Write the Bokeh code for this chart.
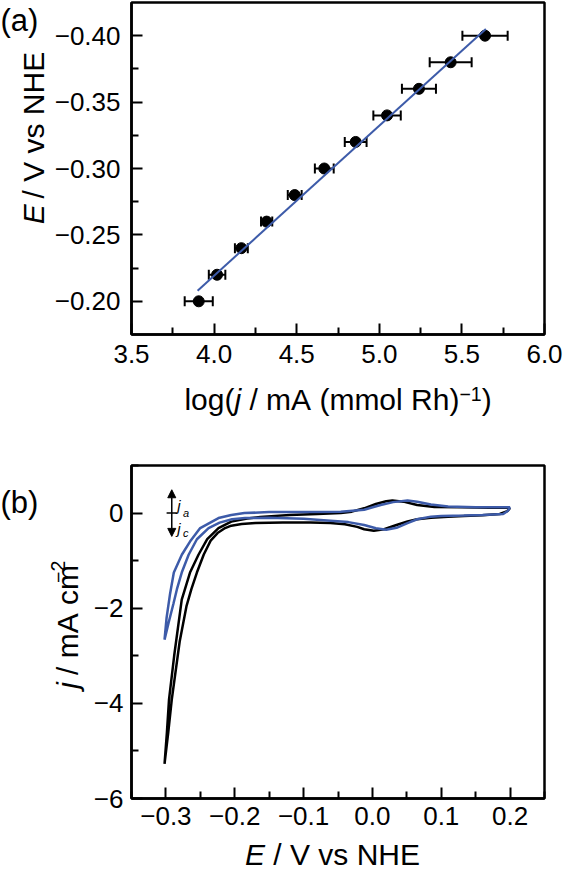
import math
from bokeh.plotting import figure
from bokeh.models import (Range1d, FixedTicker, CustomJSTickFormatter, Label, Whisker,
                          ColumnDataSource, Arrow, NormalHead, TeeHead)
from bokeh.layouts import column, row
from bokeh.core.properties import value
from bokeh.embed import file_html
from bokeh.resources import INLINE

# ---------------- data: panel (a) ----------------
log_j = [3.907, 4.018, 4.165, 4.318, 4.488, 4.667, 4.857, 5.047, 5.240, 5.432, 5.640]
potential_a = [-0.20, -0.22, -0.24, -0.26, -0.28, -0.30, -0.32, -0.34, -0.36, -0.38, -0.40]
log_j_err = [0.085, 0.050, 0.039, 0.034, 0.042, 0.057, 0.066, 0.083, 0.103, 0.127, 0.137]
fit_x = [3.90, 5.645]
fit_y = [-0.208, -0.405]
a_xticks = [3.5, 4.0, 4.5, 5.0, 5.5, 6.0]
a_xminor = [3.75, 4.25, 4.75, 5.25, 5.75]
a_yticks = [-0.40, -0.35, -0.30, -0.25, -0.20]
a_yminor = [-0.375, -0.325, -0.275, -0.225]

# ---------------- data: panel (b) ----------------
black_cat_E = [0.200, 0.196, 0.185, 0.160, 0.133, 0.110, 0.085, 0.065, 0.051, 0.035, 0.017, 0.002,
               -0.012, -0.022, -0.040, -0.061, -0.090, -0.130, -0.170, -0.190, -0.205, -0.214,
               -0.225, -0.235, -0.245, -0.255, -0.263, -0.270, -0.280, -0.2915, -0.2965, -0.302]
black_cat_j = [0.110, 0.040, -0.020, -0.045, -0.060, -0.075, -0.100, -0.130, -0.175, -0.250, -0.340, -0.370,
               -0.340, -0.290, -0.235, -0.210, -0.200, -0.200, -0.210, -0.230, -0.265, -0.315,
               -0.420, -0.580, -0.870, -1.250, -1.600, -1.950, -2.700, -3.920, -4.600, -5.270]
black_an_E = [-0.302, -0.2985, -0.2955, -0.2880, -0.2770, -0.2650, -0.2527, -0.2400, -0.2236, -0.2050,
              -0.1820, -0.1630, -0.1200, -0.0800, -0.0460, -0.0300, -0.0120, 0.0050, 0.0200, 0.0290,
              0.0450, 0.0650, 0.0900, 0.1300, 0.1700, 0.2000]
black_an_j = [-5.270, -4.600, -3.920, -3.000, -1.820, -1.250, -0.876, -0.550, -0.315, -0.180,
              -0.115, -0.080, -0.040, -0.020, 0.000, 0.030, 0.100, 0.190, 0.250, 0.265,
              0.240, 0.170, 0.130, 0.120, 0.110, 0.115]
blue_cat_E = [0.200, 0.197, 0.190, 0.160, 0.133, 0.100, 0.085, 0.065, 0.051, 0.035, 0.020, 0.005,
              -0.012, -0.035, -0.061, -0.100, -0.150, -0.185, -0.204, -0.222, -0.238, -0.255,
              -0.267, -0.277, -0.284, -0.289, -0.296, -0.302]
blue_cat_j = [0.125, 0.050, -0.020, -0.040, -0.050, -0.060, -0.075, -0.130, -0.210, -0.310, -0.350, -0.320,
              -0.250, -0.190, -0.160, -0.120, -0.100, -0.105, -0.130, -0.200, -0.315, -0.550,
              -0.876, -1.250, -1.600, -1.900, -2.300, -2.660]
blue_an_E = [-0.302, -0.299, -0.294, -0.2885, -0.2769, -0.2650, -0.2502, -0.2236, -0.2050, -0.1860,
             -0.1500, -0.1000, -0.0460, -0.0120, 0.0120, 0.0300, 0.0510, 0.0650, 0.0850, 0.1100,
             0.1500, 0.2000]
blue_an_j = [-2.660, -2.200, -1.700, -1.250, -0.876, -0.600, -0.315, -0.105, -0.040, 0.000,
             0.020, 0.025, 0.030, 0.070, 0.170, 0.230, 0.265, 0.240, 0.180, 0.140,
             0.120, 0.125]
b_xticks = [-0.3, -0.2, -0.1, 0.0, 0.1, 0.2]
b_xminor = [-0.35, -0.25, -0.15, -0.05, 0.05, 0.15, 0.25]
b_yticks = [-6, -4, -2, 0]
b_yminor = [-5, -3, -1, 1]

# ---------------- styling ----------------
FONT = "Liberation Sans"
BLUE = "#3d5ba9"
TICK_PX = "26px"
LAB_F = 30
PANEL_F = 31
NB = "\u00a0"
BASE_SHIFT = 0.31   # observed offset of the glyph baseline, in em
W = {NB: 278, ' ': 278, '(': 333, ')': 333, '/': 278, '.': 278, '\u2212': 584, 'A': 667, 'E': 667,
     'H': 722, 'N': 722, 'R': 722, 'V': 667, 'a': 556, 'c': 500, 'g': 556, 'h': 556,
     'j': 222, 'l': 222, 'm': 833, 'o': 556, 's': 500, 'v': 500}
for d in "0123456789":
    W[d] = 556


def twidth(s, size):
    return sum(W.get(ch, 556) for ch in s) * size / 1000.0


def put_text(s, x, y, t, size, italic=False, rotated=False):
    t = t.replace(" ", NB)
    if rotated:
        x = x - BASE_SHIFT * size
    else:
        y = y + BASE_SHIFT * size
    s.text(x=[x], y=[y], text=[t], angle=(math.pi / 2 if rotated else 0.0), text_font=value(FONT),
           text_font_size=value("%.1fpx" % size),
           text_font_style="italic" if italic else "normal",
           text_align="left", text_baseline="alphabetic", text_color="black")


def pieces(s, parts, center, base, rotated=False):
    total = sum(twidth(t, LAB_F * sc) for t, it, sc, r in parts)
    pos = center - total / 2.0
    for t, it, sc, r in parts:
        size = LAB_F * sc
        if rotated:
            put_text(s, base - r * LAB_F, pos, t, size, it, True)
        else:
            put_text(s, pos, base + r * LAB_F, t, size, it)
        pos += twidth(t, size)


def strip(w, h):
    s = figure(width=w, height=h, output_backend="svg", toolbar_location=None,
               x_range=Range1d(0, w), y_range=Range1d(0, h),
               x_axis_location=None, y_axis_location=None,
               min_border=0, min_border_left=0, min_border_right=0,
               min_border_top=0, min_border_bottom=0)
    s.outline_line_color = None
    s.grid.visible = False
    s.background_fill_color = "white"
    s.border_fill_color = "white"
    return s


def style_axis(ax, ticks, minor, digits, standoff):
    ax.ticker = FixedTicker(ticks=ticks, minor_ticks=minor)
    ax.formatter = CustomJSTickFormatter(
        code='return (tick < -1e-9 ? "\\u2212" : "") + Math.abs(tick).toFixed(%d);' % digits)
    ax.major_tick_in = 11
    ax.major_tick_out = 0
    ax.minor_tick_in = 7
    ax.minor_tick_out = 0
    ax.major_tick_line_width = 2
    ax.minor_tick_line_width = 2
    ax.major_tick_line_color = "black"
    ax.minor_tick_line_color = "black"
    ax.axis_line_color = "black"
    ax.axis_line_width = 2.5
    ax.major_label_text_font = FONT
    ax.major_label_text_font_size = TICK_PX
    ax.major_label_text_color = "black"
    ax.major_label_standoff = standoff


def main_fig(w, h, xr, yr, left, top, bottom):
    p = figure(width=w, height=h, output_backend="svg", toolbar_location=None,
               x_range=xr, y_range=yr, min_border_left=left, min_border_right=22,
               min_border_top=top, min_border_bottom=bottom)
    p.grid.visible = False
    p.outline_line_color = "black"
    p.outline_line_width = 2.5
    p.outline_line_alpha = 1.0
    p.background_fill_color = "white"
    p.border_fill_color = "white"
    return p


# ---------------- panel (a) ----------------
SA_W, PA_H, XLA_H = 50, 382, 60
pa = main_fig(566 - SA_W, PA_H, Range1d(3.5, 6.0), Range1d(-0.175, -0.425),
              131 - SA_W, 2, 48)
style_axis(pa.xaxis[0], a_xticks, a_xminor, 1, 10)
style_axis(pa.yaxis[0], a_yticks, a_yminor, 2, 11)

src_a = ColumnDataSource(dict(
    x=log_j, y=potential_a,
    lo=[x - e for x, e in zip(log_j, log_j_err)],
    hi=[x + e for x, e in zip(log_j, log_j_err)]))
wh = Whisker(source=src_a, base="y", lower="lo", upper="hi", dimension="width",
             line_color="black", line_width=2,
             upper_head=TeeHead(size=10, line_width=2, line_color="black"),
             lower_head=TeeHead(size=10, line_width=2, line_color="black"))
pa.add_layout(wh)
pa.scatter("x", "y", source=src_a, size=11, color="black")
pa.line(fit_x, fit_y, line_color=BLUE, line_width=2)

sa = strip(SA_W, PA_H)
put_text(sa, 0, PA_H - 30.2, "(a)", PANEL_F)
pieces(sa, [("E", True, 1, 0), (" / V vs NHE", False, 1, 0)], PA_H - 167.6, 42, rotated=True)

xla = strip(566, XLA_H)
pieces(xla, [("log(", False, 1, 0), ("j", True, 1, 0), (" / mA (mmol Rh)", False, 1, 0),
             ("\u22121", False, 0.65, 0.28), (")", False, 1, 0)], 337.5, XLA_H - (408 - 382))

# ---------------- panel (b) ----------------
B0 = PA_H + XLA_H                      # page y where panel (b) starts
SB_W, PB_H = 86, 23 + 333 + 37
XLB_H = 870 - B0 - PB_H
pb = main_fig(566 - SB_W, PB_H, Range1d(-0.35, 0.25), Range1d(-6, 1), 131 - SB_W, 23, 37)
style_axis(pb.xaxis[0], b_xticks, b_xminor, 1, 8)
style_axis(pb.yaxis[0], b_yticks, b_yminor, 0, 8)

pb.line(black_cat_E + black_an_E, black_cat_j + black_an_j, line_color="black", line_width=2.5)
pb.line(blue_cat_E + blue_an_E, blue_cat_j + blue_an_j, line_color=BLUE, line_width=2.5)

AX = -0.2915
pb.add_layout(Arrow(end=NormalHead(size=8, fill_color="black", line_color="black", line_width=1),
                    x_start=AX, y_start=0.0, x_end=AX, y_end=0.49, line_width=1.5, line_color="black"))
pb.add_layout(Arrow(end=NormalHead(size=8, fill_color="black", line_color="black", line_width=1),
                    x_start=AX, y_start=0.0, x_end=AX, y_end=-0.49, line_width=1.5, line_color="black"))
pb.add_layout(Arrow(end=None, x_start=AX - 0.0075, y_start=0.0, x_end=AX + 0.0075, y_end=0.0,
                    line_width=1.5, line_color="black"))
for txt, xx, yy, sz in [("j", -0.2837, 0.155, "15px"), ("a", -0.2752, 0.0, "11px"),
                        ("j", -0.2837, -0.32, "15px"), ("c", -0.2752, -0.42, "11px")]:
    pb.add_layout(Label(x=xx, y=yy, text=txt, text_font=FONT, text_font_size=sz,
                        text_font_style="italic", text_align="left",
                        text_baseline="alphabetic", text_color="black"))

sb = strip(SB_W, PB_H)
put_text(sb, 0, PB_H - (495.2 - B0), "(b)", PANEL_F)
pieces(sb, [("j", True, 1, 0), (" / mA cm", False, 1, 0), ("\u22122", False, 0.65, 0.40)],
       PB_H - (632 - B0), 76, rotated=True)

xlb = strip(566, XLB_H)
pieces(xlb, [("E", True, 1, 0), (" / V vs NHE", False, 1, 0)], 332, XLB_H - (863.3 - (B0 + PB_H)))

layout = column(row(sa, pa, spacing=0), xla, row(sb, pb, spacing=0), xlb, spacing=0)
open("out.html", "w").write(file_html(layout, INLINE))
